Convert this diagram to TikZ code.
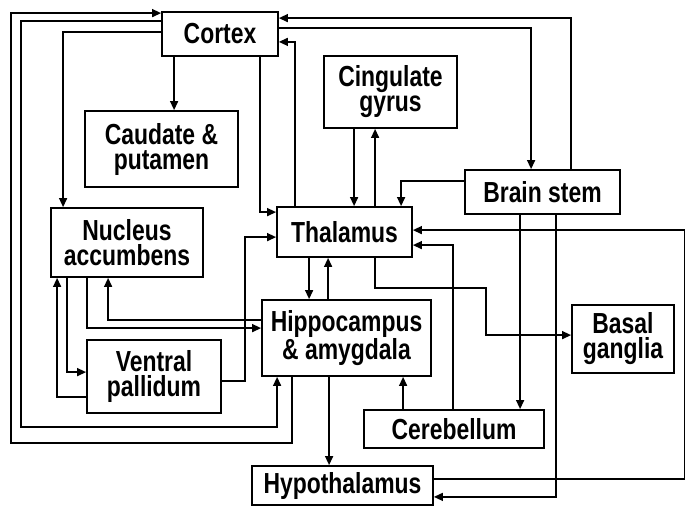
\documentclass[tikz,border=0pt]{standalone}
\usepackage{fontspec}
\setmainfont{Liberation Sans}[FakeStretch=0.79]
\usetikzlibrary{arrows.meta, positioning}

\begin{document}
\begin{tikzpicture}[x=1pt, y=-1pt,
    box/.style={draw, line width=1.8pt, align=center, inner sep=0pt, font=\fontsize{29}{25}\selectfont\bfseries},
    arr/.style={-{Triangle[length=9pt, width=8pt]}, line width=1.4pt}]
  \useasboundingbox (0,0) rectangle (686,507);
  % boxes
  \node[box, minimum width=116pt, minimum height=44pt] (cortex) at (220,34) {Cortex};
  \node[box, minimum width=153pt, minimum height=76pt] (caud) at (161.5,149) {Caudate \&\\putamen};
  \node[box, minimum width=133pt, minimum height=72pt] (cing) at (390.5,92) {Cingulate\\gyrus};
  \node[box, minimum width=155pt, minimum height=44pt] (brain) at (542.5,192) {Brain stem};
  \node[box, minimum width=135pt, minimum height=50pt] (thal) at (344.5,232) {Thalamus};
  \node[box, minimum width=152pt, minimum height=69pt] (nacc) at (127,242.5) {Nucleus\\accumbens};
  \node[box, minimum width=169pt, minimum height=76pt] (hip) at (346.5,338) {Hippocampus\\\& amygdala};
  \node[box, minimum width=134pt, minimum height=73pt] (vpal) at (154,376.5) {Ventral\\pallidum};
  \node[box, minimum width=102pt, minimum height=68pt] (basal) at (623,339) {Basal\\ganglia};
  \node[box, minimum width=180pt, minimum height=38pt] (cereb) at (454,429) {Cerebellum};
  \node[box, minimum width=181pt, minimum height=39pt] (hypo) at (342.5,485.5) {Hypothalamus};
  % outer loops round the left
  \draw[arr] ([xshift=31pt]hip.south west) |- (11,443) |- ([yshift=-2pt]cortex.north west);
  \draw[arr] ([yshift=-10pt]cortex.north west) -| (21,427) -| ([xshift=16pt]hip.south west);
  \draw[arr] ([yshift=-21pt]cortex.north west) -| ([xshift=13pt]nacc.north west);
  % cortex
  \draw[arr] ([xshift=13pt]cortex.south west) -- ([xshift=90pt]caud.north west);
  \draw[arr] ([xshift=-19pt]cortex.south east) |- ([yshift=-6pt]thal.north west);
  \draw[arr] ([xshift=19pt]thal.north west) |- ([yshift=15pt]cortex.south east);
  \draw[arr] ([xshift=107pt]brain.north west) |- ([yshift=-7pt]cortex.north east);
  \draw[arr] ([yshift=-17pt]cortex.north east) -| ([xshift=67pt]brain.north west);
  % cingulate gyrus
  \draw[arr] ([xshift=31pt]cing.south west) -- ([xshift=78pt]thal.north west);
  \draw[arr] ([xshift=99pt]thal.north west) -- ([xshift=52pt]cing.south west);
  % brain stem
  \draw[arr] ([yshift=-12pt]brain.north west) -| ([xshift=125pt]thal.north west);
  \draw[arr] ([xshift=56pt]brain.south west) -- ([xshift=157pt]cereb.north west);
  \draw[arr] ([xshift=92pt]brain.south west) |- ([yshift=9pt]hypo.south east);
  % thalamus right side
  \draw[arr] ([yshift=-14pt]hypo.north east) -| (684.5,300) |- ([yshift=-24pt]thal.north east);
  \draw[arr] ([xshift=90pt]cereb.north west) |- ([yshift=-39pt]thal.north east);
  \draw[arr] ([xshift=99pt]thal.south west) |- (486,288) |- ([yshift=-31pt]basal.north west);
  % hippocampus
  \draw[arr] ([xshift=40pt]cereb.north west) -- ([xshift=142pt]hip.south west);
  \draw[arr] ([xshift=68pt]hip.south west) -- ([xshift=78pt]hypo.north west);
  \draw[arr] ([xshift=33pt]thal.south west) -- ([xshift=48pt]hip.north west);
  \draw[arr] ([xshift=67pt]hip.north west) -- ([xshift=52pt]thal.south west);
  \draw[arr] ([yshift=-21pt]hip.north west) -| ([xshift=58pt]nacc.south west);
  \draw[arr] ([xshift=37pt]nacc.south west) |- ([yshift=-29pt]hip.north west);
  % ventral pallidum
  \draw[arr] ([yshift=-42pt]vpal.north east) -| (245,300) |- ([yshift=-31pt]thal.north west);
  \draw[arr] ([xshift=17pt]nacc.south west) |- ([yshift=-33pt]vpal.north west);
  \draw[arr] ([yshift=-58pt]vpal.north west) -| ([xshift=7pt]nacc.south west);
\end{tikzpicture}
\end{document}
